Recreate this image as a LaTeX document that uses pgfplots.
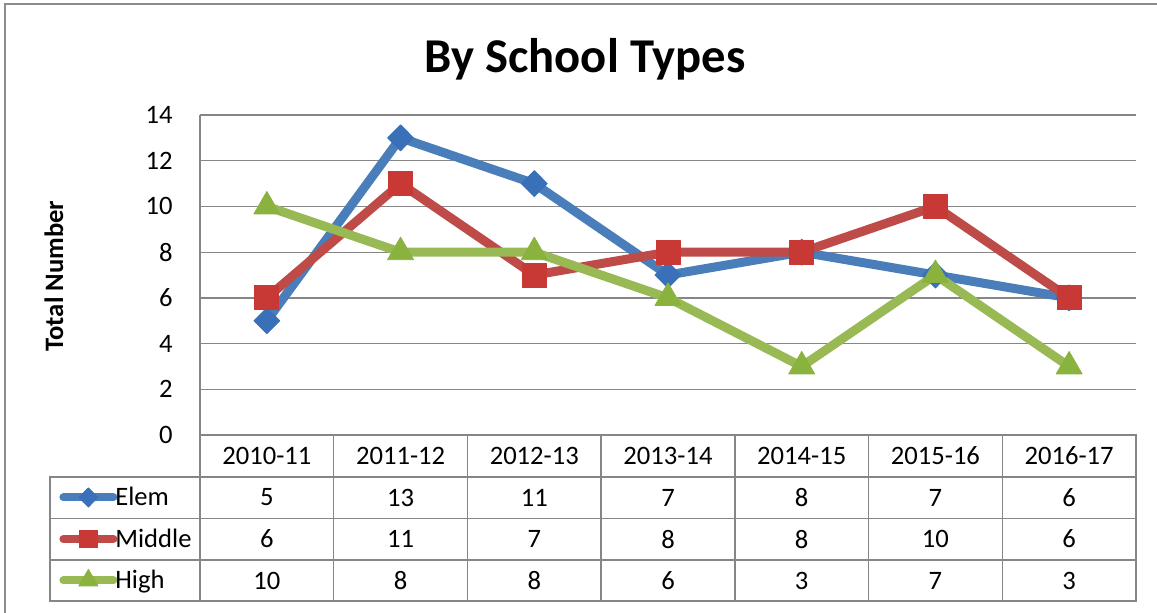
\documentclass[border=0pt]{standalone}
\usepackage{pgfplots}
\pgfplotsset{compat=1.18}
\usepackage{fontspec}
\setmainfont{Carlito}
\definecolor{elemL}{RGB}{74,126,187}
\definecolor{elemM}{RGB}{58,112,184}
\definecolor{midL}{RGB}{190,75,72}
\definecolor{midM}{RGB}{200,56,52}
\definecolor{highL}{RGB}{152,185,84}
\definecolor{highM}{RGB}{138,178,62}
\definecolor{gridgray}{RGB}{134,134,134}
\definecolor{framegray}{RGB}{140,140,140}
\newcommand{\tf}{\fontsize{13.3}{15}\selectfont}
\begin{document}
\begin{tikzpicture}
\begin{scope}[x=0.5pt,y=-0.5pt]
\path[use as bounding box] (0,0) rectangle (1157,612);
\draw[framegray, line width=1pt] (5,614) -- (5,4) -- (1160,4);
\node[font=\fontsize{24.3}{29}\selectfont\bfseries, anchor=base] at (585,72) {By School Types};
\node[font=\tf\bfseries, rotate=90] at (54,276) {Total Number};
% data table grid
\draw[gridgray, line width=0.7pt] (200,435) rectangle (1136,601);
\draw[gridgray, line width=0.7pt] (50,477) rectangle (200,601);
\draw[gridgray, line width=0.7pt] (50,477) -- (1136,477) (50,518.5) -- (1136,518.5) (50,560) -- (1136,560);
\foreach \i in {1,...,6} {\draw[gridgray, line width=0.7pt] ({200+\i*133.714},435) -- ({200+\i*133.714},601);}
\foreach \lab [count=\i from 0] in {2010-11,2011-12,2012-13,2013-14,2014-15,2015-16,2016-17}
  {\node[font=\tf] at ({266.857+\i*133.714},456) {\lab};}
\foreach \v [count=\i from 0] in {5,13,11,7,8,7,6}
  {\node[font=\tf] at ({266.857+\i*133.714},497.5) {\v};}
\foreach \v [count=\i from 0] in {6,11,7,8,8,10,6}
  {\node[font=\tf] at ({266.857+\i*133.714},539) {\v};}
\foreach \v [count=\i from 0] in {10,8,8,6,3,7,3}
  {\node[font=\tf] at ({266.857+\i*133.714},580.5) {\v};}
\end{scope}
\begin{axis}[
  at={(100pt,-217.5pt)}, anchor=south west,
  scale only axis, width=468pt, height=160pt,
  xmin=-0.5, xmax=6.5, ymin=0, ymax=14,
  xtick=\empty, ytick={0,2,...,14},
  axis x line=none, axis y line*=left,
  axis line style={draw=gridgray, line width=0.65pt, -},
  ymajorgrids, grid style={gridgray, line width=0.65pt},
  major tick length=0pt,
  yticklabel style={inner sep=0pt, xshift=-13.5pt, font=\tf},
  /pgf/number format/assume math mode=true,
  clip=false,
  legend cell align=left,
  legend style={at={(-0.15064,-0.1289)}, anchor=north west, draw=none, fill=none,
     inner sep=0pt, row sep=0pt, column sep=-1pt,
     nodes={inner sep=0pt, text height=14.575pt, text depth=6.175pt},
     font=\tf},
  legend image code/.code={%
     \draw[mark repeat=2, mark phase=2, #1, line width=4pt, line cap=round,
           every mark/.append style={scale=0.74}]
       plot coordinates {(0pt,0pt) (12.5pt,0pt) (25pt,0pt)};},
]
\addplot[elemL, line width=4.5pt, line join=round, mark=diamond*, mark size=6.5pt,
  mark options={fill=elemM, draw=elemM, line width=0.4pt, xscale=1.33}]
  coordinates {(0,5) (1,13) (2,11) (3,7) (4,8) (5,7) (6,6)};
\addlegendentry{Elem}
\addplot[midL, line width=4.5pt, line join=round, mark=square*, mark size=6pt,
  mark options={fill=midM, draw=midM, line width=0.4pt}]
  coordinates {(0,6) (1,11) (2,7) (3,8) (4,8) (5,10) (6,6)};
\addlegendentry{Middle}
\addplot[highL, line width=4.5pt, line join=round, mark=triangle*, mark size=7.5pt,
  mark options={fill=highM, draw=highM, line width=0.4pt}]
  coordinates {(0,10) (1,8) (2,8) (3,6) (4,3) (5,7) (6,3)};
\addlegendentry{High}
\end{axis}
\end{tikzpicture}
\end{document}
